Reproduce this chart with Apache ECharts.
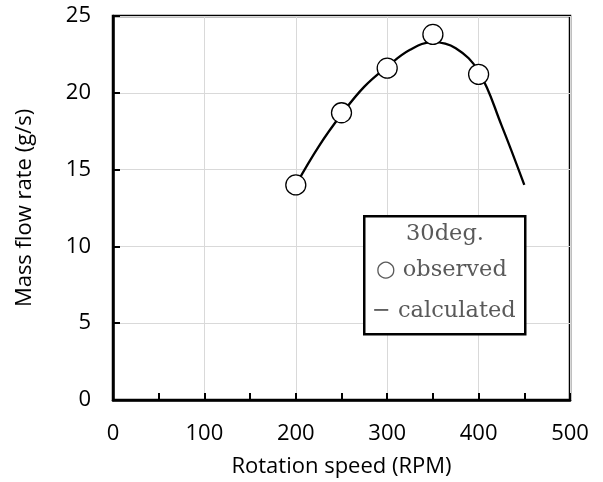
<!DOCTYPE html>
<html><head><meta charset="utf-8">
<script src="https://cdn.jsdelivr.net/npm/echarts@6/dist/echarts.min.js"></script>
<style>html,body{margin:0;padding:0;background:#fff}#c{width:603px;height:482px}</style>
</head><body><div id="c"></div>
<script>
// Observed data
var obsX = [200, 250, 300, 350, 400];
var obsY = [14.0, 18.7, 21.6, 23.8, 21.2];
// Calculated curve
var calcX = [200, 225, 250, 275, 300, 325, 350, 375, 400, 425, 450];
var calcY = [14.0, 16.5, 18.6, 20.4, 21.7, 22.8, 23.3, 22.9, 21.4, 17.9, 14.0];
var xTicks = [0, 100, 200, 300, 400, 500];
var yTicks = [0, 5, 10, 15, 20, 25];
var legendTitle = '30deg.';
var legendObs = '○ observed';
var legendCalc = '− calculated';

var chart = echarts.init(document.getElementById('c'), null, {renderer: 'canvas'});
var sans = '"Open Sans", "Noto Sans", sans-serif';
var serif = '"DejaVu Serif", serif';
chart.setOption({
  animation: false,
  backgroundColor: '#fff',
  grid: {left: 113, right: 33, top: 16, bottom: 82, outerBoundsMode: 'none', containLabel: false,
         show: true, borderColor: '#000', borderWidth: 2.5, backgroundColor: 'transparent'},
  xAxis: {
    type: 'value', min: 0, max: 500, interval: 100,
    name: 'Rotation speed (RPM)', nameLocation: 'middle', nameGap: 56,
    nameTextStyle: {fontFamily: sans, fontSize: 22, color: '#000'},
    axisLine: {show: true, lineStyle: {color: '#000', width: 2.5}},
    axisTick: {show: true, inside: true, length: 7, lineStyle: {color: '#000', width: 2}},
    minorTick: {show: true, splitNumber: 2, length: 7, lineStyle: {color: '#000', width: 2}},
    axisLabel: {fontFamily: sans, fontSize: 22, color: '#000', margin: 23,
      formatter: function (v) { return xTicks.indexOf(v) >= 0 ? String(v) : ''; }},
    splitLine: {show: true, lineStyle: {color: '#d9d9d9', width: 1}}
  },
  yAxis: {
    type: 'value', min: 0, max: 25, interval: 5,
    name: 'Mass flow rate (g/s)', nameLocation: 'middle', nameGap: 77,
    nameTextStyle: {fontFamily: sans, fontSize: 22, color: '#000'},
    axisLine: {show: true, lineStyle: {color: '#000', width: 2.5}},
    axisTick: {show: true, inside: true, length: 7, lineStyle: {color: '#000', width: 2}},
    axisLabel: {fontFamily: sans, fontSize: 22, color: '#000', margin: 22,
      formatter: function (v) { return yTicks.indexOf(v) >= 0 ? String(v) : ''; }},
    splitLine: {show: true, lineStyle: {color: '#d9d9d9', width: 1}}
  },
  series: [
    {type: 'line', name: 'calculated', smooth: 0.4, showSymbol: false, symbol: 'none',
     data: calcX.map(function (x, i) { return [x, calcY[i]]; }),
     lineStyle: {color: '#000', width: 2.3}, z: 2},
    {type: 'scatter', name: 'observed', symbol: 'circle', symbolSize: 20,
     data: obsX.map(function (x, i) { return [x, obsY[i]]; }),
     itemStyle: {color: '#fff', borderColor: '#000', borderWidth: 1.3, opacity: 1}, z: 3}
  ],
  graphic: [
    {type: 'rect', left: 363, top: 215, z: 100,
     shape: {width: 161, height: 118},
     style: {fill: '#fff', stroke: '#000', lineWidth: 2.5}},
    {type: 'text', z: 101, x: 445, y: 234,
     style: {text: legendTitle, font: '22.5px ' + serif, fill: '#595959', textAlign: 'center', textVerticalAlign: 'middle'}},
    {type: 'text', z: 101, x: 376, y: 270,
     style: {text: legendObs, font: '22.5px ' + serif, fill: '#595959', textAlign: 'left', textVerticalAlign: 'middle'}},
    {type: 'text', z: 101, x: 372, y: 311,
     style: {text: legendCalc, font: '22.5px ' + serif, fill: '#595959', textAlign: 'left', textVerticalAlign: 'middle'}}
  ]
});
</script></body></html>
